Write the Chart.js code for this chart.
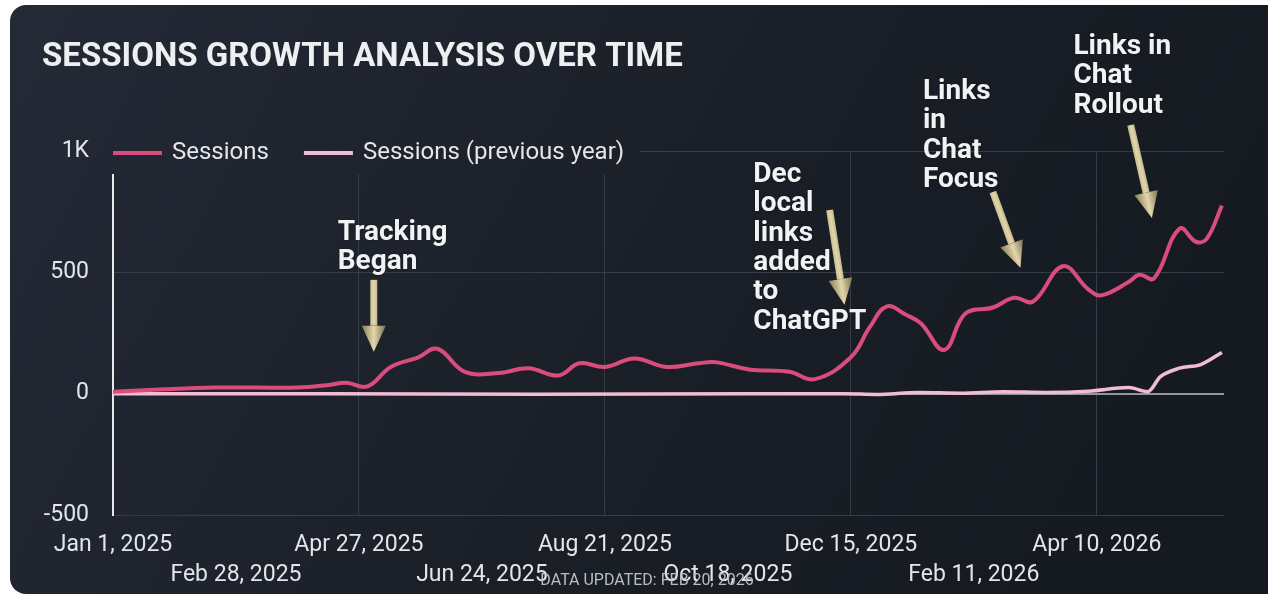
<!DOCTYPE html>
<html>
<head>
<meta charset="utf-8">
<script src="https://cdn.jsdelivr.net/npm/chart.js@4.4.1/dist/chart.umd.min.js"></script>
<style>
  html, body { margin: 0; padding: 0; background: #fff; width: 1268px; height: 598px; overflow: hidden; }
  #chart { position: absolute; left: 0; top: 0; }
</style>
</head>
<body>
<canvas id="chart" width="1268" height="598"></canvas>
<script>
// day offsets are counted from Jan 1, 2025
const tickStep = 58;
const tickCount = 9;
const monthNames = ['Jan','Feb','Mar','Apr','May','Jun','Jul','Aug','Sep','Oct','Nov','Dec'];

const sessionDays   = [0, 24, 48, 68, 87, 101, 110, 120, 131, 144, 153, 166, 182, 196, 210, 220, 232, 246, 261, 276, 284, 300, 319, 331, 348, 357, 365, 374, 381, 392, 402, 415, 425, 434, 448, 460, 466, 479, 484, 491, 503, 511, 516, 523];
const sessionValues = [8, 18, 25, 25, 25, 35, 45, 30, 110, 150, 185, 90, 85, 105, 75, 125, 110, 145, 110, 125, 130, 100, 90, 60, 150, 275, 360, 325, 290, 180, 330, 355, 395, 380, 525, 430, 405, 460, 490, 475, 680, 625, 640, 775];

const prevDays   = [0, 100, 200, 300, 345, 360, 380, 400, 420, 440, 460, 479, 488, 494, 503, 513, 523];
const prevValues = [0, 0, -2, 0, 0, -3, 5, 2, 8, 5, 10, 25, 8, 70, 105, 120, 170];

const yTicks = [-500, 0, 500, 1000];

// annotations: text lines, where the text starts, and the arrow from tail to tip
const noteLines = [['Tracking', 'Began'], ['Dec', 'local', 'links', 'added', 'to', 'ChatGPT'], ['Links', 'in', 'Chat', 'Focus'], ['Links in', 'Chat', 'Rollout']];
const noteTextDays   = [106, 302, 382, 453];
const noteTextValues = [663, 901, 1243, 1428];
const arrowTailDays   = [123, 338, 415, 480];
const arrowTailValues = [469, 757, 831, 1107];
const arrowTipDays    = [123, 345, 428, 490];
const arrowTipValues  = [173, 366, 519, 724];

function dayLabel(day) {
    const d = new Date(2025, 0, 1 + day);
    return monthNames[d.getMonth()] + ' ' + d.getDate() + ', ' + d.getFullYear();
}

let cardFill = null;

const backgroundPlugin = {
    id: 'card',
    beforeDraw(chart) {
        const ctx = chart.ctx;
        ctx.save();
        ctx.fillStyle = '#ffffff';
        ctx.fillRect(0, 0, chart.width, chart.height);
        cardFill = ctx.createLinearGradient(10, 5, 1100, 598);
        cardFill.addColorStop(0, '#242a36');
        cardFill.addColorStop(0.5, '#1b2029');
        cardFill.addColorStop(1, '#151920');
        ctx.fillStyle = cardFill;
        ctx.beginPath();
        ctx.roundRect(10, 5, 1290, 589, 16);
        ctx.fill();
        // title
        ctx.fillStyle = '#eeeff1';
        ctx.font = 'bold 33px Roboto';
        ctx.textBaseline = 'middle';
        ctx.fillText('SESSIONS GROWTH ANALYSIS OVER TIME', 42, 58);
        ctx.restore();
    }
};

function drawArrow(ctx, x1, y1, x2, y2) {
    const len = Math.hypot(x2 - x1, y2 - y1);
    const ux = (x2 - x1) / len, uy = (y2 - y1) / len;
    const nx = -uy, ny = ux;
    const headLen = 26, headHalf = 12, shaftHalf = 3.5;
    const bx = x2 - ux * headLen, by = y2 - uy * headLen;
    const g = ctx.createLinearGradient(bx - nx * headHalf, by - ny * headHalf, bx + nx * headHalf, by + ny * headHalf);
    g.addColorStop(0, '#7d6f4b');
    g.addColorStop(0.5, '#e2d6ad');
    g.addColorStop(1, '#8a7b52');
    ctx.fillStyle = g;
    ctx.beginPath();
    ctx.moveTo(x1 + nx * shaftHalf, y1 + ny * shaftHalf);
    ctx.lineTo(bx + nx * shaftHalf, by + ny * shaftHalf);
    ctx.lineTo(bx - nx * shaftHalf, by - ny * shaftHalf);
    ctx.lineTo(x1 - nx * shaftHalf, y1 - ny * shaftHalf);
    ctx.closePath();
    ctx.fill();
    ctx.beginPath();
    ctx.moveTo(bx + nx * headHalf, by + ny * headHalf);
    ctx.lineTo(x2, y2);
    ctx.lineTo(bx - nx * headHalf, by - ny * headHalf);
    ctx.closePath();
    ctx.fill();
}

const overlayPlugin = {
    id: 'overlay',
    afterDraw(chart) {
        const ctx = chart.ctx;
        const xs = chart.scales.x, ys = chart.scales.y;
        ctx.save();

        // legend sits over the top of the plot
        ctx.fillStyle = cardFill;
        ctx.fillRect(104, 134, 536, 40);
        ctx.font = '24px Roboto';
        ctx.textBaseline = 'middle';
        let lx = 113;
        chart.data.datasets.forEach(ds => {
            ctx.strokeStyle = ds.borderColor;
            ctx.lineWidth = 4;
            ctx.beginPath();
            ctx.moveTo(lx, 153);
            ctx.lineTo(lx + 49, 153);
            ctx.stroke();
            ctx.fillStyle = '#e4e6e9';
            ctx.fillText(ds.label, lx + 59, 153);
            lx += 59 + ctx.measureText(ds.label).width + 35;
        });

        // annotations
        ctx.font = 'bold 28px Roboto';
        noteLines.forEach((lines, i) => {
            drawArrow(ctx,
                xs.getPixelForValue(arrowTailDays[i]), ys.getPixelForValue(arrowTailValues[i]),
                xs.getPixelForValue(arrowTipDays[i]), ys.getPixelForValue(arrowTipValues[i]));
            const tx = xs.getPixelForValue(noteTextDays[i]);
            const ty = ys.getPixelForValue(noteTextValues[i]);
            ctx.fillStyle = '#f1f2f3';
            ctx.shadowColor = 'rgba(0,0,0,0.5)';
            ctx.shadowBlur = 2;
            lines.forEach((t, j) => ctx.fillText(t, tx, ty + j * 29.3));
            ctx.shadowBlur = 0;
        });

        ctx.font = '16px Roboto';
        ctx.fillStyle = '#b9bdc4';
        ctx.textAlign = 'center';
        ctx.fillText('DATA UPDATED: FEB 20, 2026', 647, 581);
        ctx.restore();
    }
};

new Chart(document.getElementById('chart'), {
    type: 'line',
    data: {
        datasets: [
            {
                label: 'Sessions',
                data: sessionDays.map((d, i) => ({ x: d, y: sessionValues[i] })),
                borderColor: '#d94c7b',
                borderWidth: 4,
                pointRadius: 0,
                tension: 0.4
            },
            {
                label: 'Sessions (previous year)',
                data: prevDays.map((d, i) => ({ x: d, y: prevValues[i] })),
                borderColor: '#f2bdd4',
                borderWidth: 3.5,
                pointRadius: 0,
                cubicInterpolationMode: 'monotone'
            }
        ]
    },
    options: {
        responsive: false,
        animation: false,
        layout: { padding: { left: 42, top: 151, right: 44, bottom: 0 } },
        plugins: { legend: { display: false }, tooltip: { enabled: false } },
        scales: {
            x: {
                type: 'linear',
                min: 0,
                max: 524,
                afterBuildTicks: scale => {
                    scale.ticks = Array.from({ length: tickCount }, (_, i) => ({ value: i * tickStep }));
                },
                afterFit: scale => { scale.height = 83; },
                ticks: {
                    autoSkip: false,
                    maxRotation: 0,
                    padding: 15,
                    color: '#e3e5e8',
                    font: { family: 'Roboto', size: 23, lineHeight: 1.3 },
                    callback: (value, index) => index % 2 ? ['', dayLabel(value)] : dayLabel(value)
                },
                grid: {
                    drawTicks: false,
                    color: ctx => ctx.index % 2 === 0 ? '#353c48' : 'rgba(0,0,0,0)'
                },
                border: { display: false }
            },
            y: {
                min: -500,
                max: 1000,
                afterBuildTicks: scale => { scale.ticks = yTicks.map(v => ({ value: v })); },
                afterFit: scale => { scale.width = 71; },
                ticks: {
                    padding: 24,
                    color: '#e3e5e8',
                    font: { family: 'Roboto', size: 23 },
                    callback: v => v === 1000 ? '1K' : v
                },
                grid: {
                    drawTicks: false,
                    color: ctx => ctx.tick && ctx.tick.value === 0 ? '#8e969f' : '#363d48',
                    lineWidth: ctx => ctx.tick && ctx.tick.value === 0 ? 2 : 1
                },
                border: { display: true, color: '#e8e8e8', width: 2 }
            }
        }
    },
    plugins: [backgroundPlugin, overlayPlugin]
});
</script>
</body>
</html>
